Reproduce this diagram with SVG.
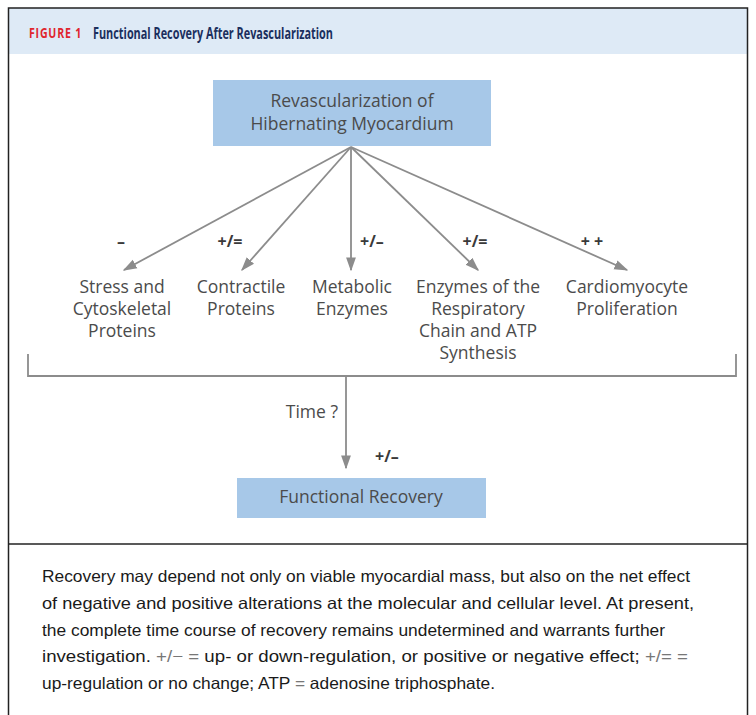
<svg xmlns="http://www.w3.org/2000/svg" width="756" height="715" viewBox="0 0 756 715">
<defs>
<marker id="ah2" viewBox="0 0 10 10" refX="9" refY="5" markerWidth="14" markerHeight="14" markerUnits="userSpaceOnUse" orient="auto">
<path d="M0,1.5 L10,5 L0,8.5 z" fill="#8c8c8c"/>
</marker>
<style>
.lbl{font-family:"Open Sans","Noto Sans",sans-serif;font-size:17.5px;fill:#4b4b4b;text-anchor:middle;font-weight:500}
.sgn{font-family:"Open Sans","Noto Sans",sans-serif;font-size:16px;fill:#3a3a3a;text-anchor:middle;font-weight:bold}
.box{fill:#a7c8e8}
.con{stroke:#8c8c8c;stroke-width:1.8;fill:none}
.cap{font-family:"Liberation Sans",sans-serif;font-size:16.5px;fill:#1a1a1a}
</style>
</defs>
<rect x="0" y="0" width="756" height="715" fill="#ffffff"/>
<rect x="8.5" y="8" width="739" height="46" fill="#deeaf6"/>
<rect x="8.5" y="8" width="739" height="720" fill="none" stroke="#222" stroke-width="1.5"/>
<line x1="8.5" y1="544" x2="747.5" y2="544" stroke="#222" stroke-width="1.5"/>
<text x="29" y="38" font-family="'Open Sans','Noto Sans',sans-serif" font-weight="bold" font-size="13.5" fill="#e0262e" letter-spacing="1" textLength="53" lengthAdjust="spacingAndGlyphs">FIGURE 1</text>
<text x="93" y="39" font-family="'Open Sans','Noto Sans',sans-serif" font-weight="bold" font-size="16.5" fill="#1b2f5e" textLength="240" lengthAdjust="spacingAndGlyphs">Functional Recovery After Revascularization</text>
<g id="n-revasc">
<rect class="box" x="213" y="80" width="278" height="66"/>
<text class="lbl" x="352" y="107">Revascularization of</text>
<text class="lbl" x="352" y="130">Hibernating Myocardium</text>
</g>
<g id="n-stress">
<text class="lbl" x="122" y="293">Stress and</text>
<text class="lbl" x="122" y="315">Cytoskeletal</text>
<text class="lbl" x="122" y="337">Proteins</text>
</g>
<g id="n-contract">
<text class="lbl" x="241" y="293">Contractile</text>
<text class="lbl" x="241" y="315">Proteins</text>
</g>
<g id="n-metab">
<text class="lbl" x="352" y="293">Metabolic</text>
<text class="lbl" x="352" y="315">Enzymes</text>
</g>
<g id="n-resp">
<text class="lbl" x="478" y="293">Enzymes of the</text>
<text class="lbl" x="478" y="315">Respiratory</text>
<text class="lbl" x="478" y="337">Chain and ATP</text>
<text class="lbl" x="478" y="359">Synthesis</text>
</g>
<g id="n-cardio">
<text class="lbl" x="627" y="293">Cardiomyocyte</text>
<text class="lbl" x="627" y="315">Proliferation</text>
</g>
<g id="n-func">
<rect class="box" x="237" y="478" width="249" height="40"/>
<text class="lbl" x="361" y="503">Functional Recovery</text>
</g>
<g id="connectors">
<line class="con" x1="351" y1="147" x2="124" y2="270" marker-end="url(#ah2)"/>
<line class="con" x1="351" y1="147" x2="242" y2="270" marker-end="url(#ah2)"/>
<line class="con" x1="351" y1="147" x2="351" y2="270" marker-end="url(#ah2)"/>
<line class="con" x1="351" y1="147" x2="478" y2="270" marker-end="url(#ah2)"/>
<line class="con" x1="351" y1="147" x2="627" y2="270" marker-end="url(#ah2)"/>
<path class="con" d="M28,354 V376 H736 V354"/>
<line class="con" x1="346" y1="376" x2="346" y2="468" marker-end="url(#ah2)"/>
<text class="sgn" x="121" y="247">–</text>
<text class="sgn" x="230" y="247">+/=</text>
<text class="sgn" x="372" y="247">+/–</text>
<text class="sgn" x="475" y="247">+/=</text>
<text class="sgn" x="592" y="247">+ +</text>
<text class="lbl" x="338" y="418" style="text-anchor:end">Time ?</text>
<text class="sgn" x="387" y="462">+/–</text>
</g>
<text class="cap" x="42" y="582" textLength="648" lengthAdjust="spacingAndGlyphs">Recovery may depend not only on viable myocardial mass, but also on the net effect</text>
<text class="cap" x="42" y="609" textLength="652" lengthAdjust="spacingAndGlyphs">of negative and positive alterations at the molecular and cellular level. At present,</text>
<text class="cap" x="42" y="636" textLength="623" lengthAdjust="spacingAndGlyphs">the complete time course of recovery remains undetermined and warrants further</text>
<text class="cap" x="42" y="662" textLength="646" lengthAdjust="spacingAndGlyphs">investigation. <tspan fill="#777">+/− =</tspan> up- or down-regulation, or positive or negative effect; <tspan fill="#777">+/= =</tspan></text>
<text class="cap" x="42" y="689" textLength="453" lengthAdjust="spacingAndGlyphs">up-regulation or no change; ATP <tspan fill="#777">=</tspan> adenosine triphosphate.</text>
</svg>
